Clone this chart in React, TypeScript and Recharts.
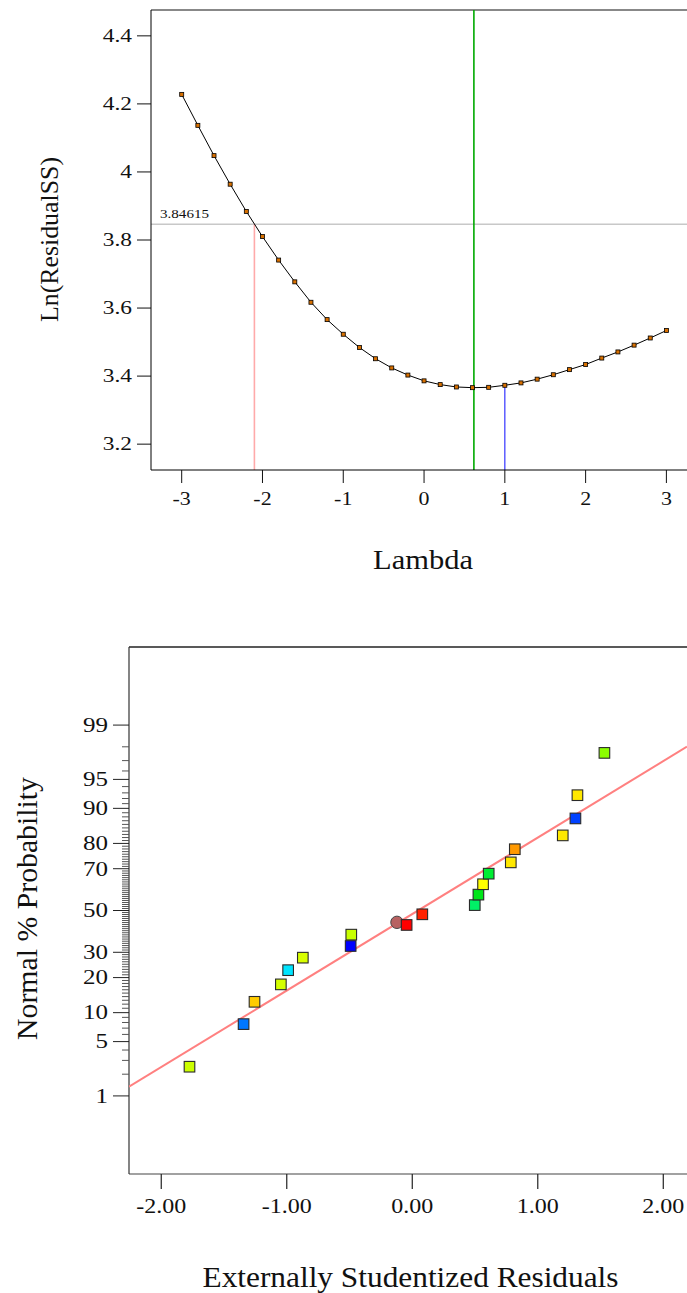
import React from 'react';
import { ComposedChart, Line, XAxis, YAxis, ReferenceLine, Scatter, Label } from 'recharts';

const FONT = "'Liberation Serif', 'Times New Roman', Times, serif";

// ---------- Box-Cox plot data ----------
const lambdaValues = [-3, -2.8, -2.6, -2.4, -2.2, -2, -1.8, -1.6, -1.4, -1.2, -1, -0.8, -0.6, -0.4, -0.2, 0, 0.2, 0.4, 0.6, 0.8, 1, 1.2, 1.4, 1.6, 1.8, 2, 2.2, 2.4, 2.6, 2.8, 3];
const lnResidualSS = [4.228, 4.137, 4.048, 3.964, 3.884, 3.81, 3.741, 3.677, 3.617, 3.566, 3.523, 3.484, 3.451, 3.424, 3.403, 3.386, 3.375, 3.368, 3.366, 3.367, 3.373, 3.38, 3.391, 3.404, 3.419, 3.434, 3.453, 3.471, 3.491, 3.512, 3.534];
const lambdaTicks = [-3, -2, -1, 0, 1, 2, 3];
const lnTicks = [3.2, 3.4, 3.6, 3.8, 4, 4.2, 4.4];
const lambdaDomain = [-3.38, 3.255];
const lnDomain = [3.124, 4.476];
const ciThreshold = 3.84615;
const lambdaLow = -2.1;
const lambdaBest = 0.617;
const lambdaCurrent = 1;
const lnAtCurrent = 3.373;

// ---------- Normal probability plot data ----------
const residuals = [-1.775, -1.344, -1.257, -1.047, -0.989, -0.872, -0.491, -0.486, -0.122, -0.045, 0.08, 0.498, 0.527, 0.564, 0.609, 0.785, 0.817, 1.199, 1.3, 1.316, 1.531];
const probabilities = [2.5, 7.7, 12.6, 17.7, 22.7, 27.7, 32.8, 38.1, 44.1, 42.8, 48.1, 52.7, 57.9, 62.9, 67.8, 72.7, 77.9, 82.7, 87.6, 92.6, 97.6];
const pointColors = ['#ccff00', '#0077ff', '#ffcc00', '#d4ff00', '#00e5ff', '#d8ff00', '#0000ff', '#c8ff00', '#b86262', '#ff0000', '#ff2200', '#00f066', '#00e61a', '#ffff00', '#00ee33', '#ffe800', '#ff9900', '#ffe800', '#0040ff', '#ffe800', '#8cff00'];
const pointShapes = ['square', 'square', 'square', 'square', 'square', 'square', 'square', 'square', 'circle', 'square', 'square', 'square', 'square', 'square', 'square', 'square', 'square', 'square', 'square', 'square', 'square'];
const fitResiduals = [-2.257, 2.189];
const fitProbabilities = [1.352, 98.01];
const residualTicks = [-2, -1, 0, 1, 2];
const residualDomain = [-2.257, 2.189];
const probLabels = [1, 5, 10, 20, 30, 50, 70, 80, 90, 95, 99];
const probMinorTicks = Array.from({ length: 99 }, (_, i) => i + 1);
const zDomain = [-3.306, 3.306];

// inverse standard normal CDF (Acklam) — the probability axis transform
function probit(p: number): number {
  const a = [-39.69683028665376, 220.9460984245205, -275.9285104469687, 138.357751867269, -30.66479806614716, 2.506628277459239];
  const b = [-54.47609879822406, 161.5858368580409, -155.6989798598866, 66.80131188771972, -13.28068155288572];
  const c = [-0.007784894002430293, -0.3223964580411365, -2.400758560128061, -2.549732539343734, 4.374664141464968, 2.938163982698783];
  const d = [0.007784695709041462, 0.3224671290700398, 2.445134137142996, 3.754408661907416];
  const pl = 0.02425;
  if (p < pl) {
    const q = Math.sqrt(-2 * Math.log(p));
    return (((((c[0] * q + c[1]) * q + c[2]) * q + c[3]) * q + c[4]) * q + c[5]) / ((((d[0] * q + d[1]) * q + d[2]) * q + d[3]) * q + 1);
  }
  if (p <= 1 - pl) {
    const q = p - 0.5;
    const r = q * q;
    return ((((((a[0] * r + a[1]) * r + a[2]) * r + a[3]) * r + a[4]) * r + a[5]) * q) / (((((b[0] * r + b[1]) * r + b[2]) * r + b[3]) * r + b[4]) * r + 1);
  }
  const q = Math.sqrt(-2 * Math.log(1 - p));
  return -(((((c[0] * q + c[1]) * q + c[2]) * q + c[3]) * q + c[4]) * q + c[5]) / ((((d[0] * q + d[1]) * q + d[2]) * q + d[3]) * q + 1);
}

const lambdaData = lambdaValues.map((l, i) => ({ lambda: l, ln: lnResidualSS[i] }));
const pointData = residuals.map((r, i) => ({ x: r, z: probit(probabilities[i] / 100), color: pointColors[i], shape: pointShapes[i] }));
const fitData = fitResiduals.map((r, i) => ({ x: r, z: probit(fitProbabilities[i] / 100) }));
const zTicks = probMinorTicks.map((p) => probit(p / 100));

const nearestPct = (z: number) => {
  let best = 1;
  let bd = Infinity;
  probMinorTicks.forEach((p, i) => {
    const dd = Math.abs(zTicks[i] - z);
    if (dd < bd) { bd = dd; best = p; }
  });
  return best;
};

// ---------- custom ticks ----------
const TopXTick = (props: any) => {
  const { x, y, payload } = props;
  return (
    <g>
      <line x1={x} x2={x} y1={y} y2={y + 13} stroke="#111" strokeWidth={1} />
      <text transform={`translate(${x},${y + 35}) scale(1.22,1)`} textAnchor="middle" fontSize={18} fontFamily={FONT} fill="#111">{String(payload.value)}</text>
    </g>
  );
};

const TopYTick = (props: any) => {
  const { x, y, payload } = props;
  return (
    <g>
      <line x1={x - 14} x2={x} y1={y} y2={y} stroke="#111" strokeWidth={1} />
      <text transform={`translate(${x - 19},${y}) scale(1.3,1)`} textAnchor="end" dy="0.34em" fontSize={18} fontFamily={FONT} fill="#111">{String(payload.value)}</text>
    </g>
  );
};

const BottomXTick = (props: any) => {
  const { x, y, payload } = props;
  return (
    <g>
      <line x1={x} x2={x} y1={y} y2={y + 15} stroke="#222" strokeWidth={1.2} />
      <text transform={`translate(${x},${y + 39}) scale(1.2,1)`} textAnchor="middle" fontSize={20} fontFamily={FONT} fill="#111">{Number(payload.value).toFixed(2)}</text>
    </g>
  );
};

const BottomYTick = (props: any) => {
  const { x, y, payload } = props;
  const p = nearestPct(payload.value);
  const labeled = probLabels.includes(p);
  return (
    <g>
      <line x1={x - (labeled ? 16 : 7)} x2={x} y1={y} y2={y} stroke={labeled ? '#222' : '#555'} strokeWidth={1} />
      {labeled && (
        <text transform={`translate(${x - 21},${y}) scale(1.25,1)`} textAnchor="end" dy="0.34em" fontSize={20} fontFamily={FONT} fill="#111">{String(p)}</text>
      )}
    </g>
  );
};

const SquareDot = (props: any) => {
  const { cx, cy, index } = props;
  if (cx == null || cy == null) return <g key={index} />;
  return <rect key={index} x={cx - 2} y={cy - 2} width={4} height={4} fill="#d87000" stroke="#000" strokeWidth={0.8} />;
};

const PointShape = (props: any) => {
  const { cx, cy, payload } = props;
  if (payload.shape === 'circle') {
    return <circle cx={cx} cy={cy} r={6.2} fill={payload.color} stroke="#444" strokeWidth={1} />;
  }
  return <rect x={cx - 5.3} y={cy - 5.3} width={10.6} height={10.6} fill={payload.color} stroke="#2a2a2a" strokeWidth={1.1} />;
};

const EmptyShape = () => <g />;

export default function App() {
  return (
    <div style={{ width: 687, background: '#fff' }}>
      <style>{'body{margin:0;background:#fff}'}</style>
      <ComposedChart width={687} height={600} data={lambdaData} margin={{ top: 10, right: 0, bottom: 0, left: 0 }}>
        <XAxis type="number" dataKey="lambda" domain={lambdaDomain} ticks={lambdaTicks} interval={0} height={130}
          tickSize={0} tickMargin={0} tickLine={false} axisLine={{ stroke: '#000', strokeWidth: 1 }} tick={TopXTick} allowDataOverflow>
          <Label content={() => (
            <text x={423} y={569} textAnchor="middle" fontSize={27} fontFamily={FONT} fill="#111" textLength={100} lengthAdjust="spacingAndGlyphs">Lambda</text>
          )} />
        </XAxis>
        <YAxis type="number" domain={lnDomain} ticks={lnTicks} interval={0} width={151}
          tickSize={0} tickMargin={0} tickLine={false} axisLine={{ stroke: '#000', strokeWidth: 1 }} tick={TopYTick} allowDataOverflow>
          <Label content={() => (
            <text transform="translate(58,239.5) rotate(-90)" textAnchor="middle" fontSize={25.5} fontFamily={FONT} fill="#111" textLength={165} lengthAdjust="spacingAndGlyphs">Ln(ResidualSS)</text>
          )} />
        </YAxis>
        <ReferenceLine y={lnDomain[1]} stroke="#888" strokeWidth={2} />
        <ReferenceLine y={ciThreshold} stroke="#c8c8c8" strokeWidth={1.5}
          label={(p: any) => (
            <text x={160} y={218} fontSize={13.5} fontFamily={FONT} fill="#111" textLength={49} lengthAdjust="spacingAndGlyphs">3.84615</text>
          )} />
        <ReferenceLine x={lambdaBest} stroke="#00aa00" strokeWidth={1.6} />
        <ReferenceLine segment={[{ x: lambdaLow, y: lnDomain[0] }, { x: lambdaLow, y: ciThreshold }]} stroke="#ffaaaa" strokeWidth={1.6} />
        <ReferenceLine segment={[{ x: lambdaCurrent, y: lnDomain[0] }, { x: lambdaCurrent, y: lnAtCurrent }]} stroke="#3333ff" strokeWidth={1.2} />
        <Line type="linear" dataKey="ln" stroke="#000" strokeWidth={1} dot={SquareDot} activeDot={false} isAnimationActive={false} />
      </ComposedChart>

      <ComposedChart width={687} height={693} margin={{ top: 47, right: 0, bottom: 0, left: 0 }}>
        <XAxis type="number" dataKey="x" domain={residualDomain} ticks={residualTicks} interval={0} height={119}
          tickSize={0} tickMargin={0} tickLine={false} axisLine={{ stroke: '#444', strokeWidth: 1.2 }} tick={BottomXTick} allowDataOverflow>
          <Label content={() => (
            <text x={410.5} y={686.5} textAnchor="middle" fontSize={30} fontFamily={FONT} fill="#111" textLength={416} lengthAdjust="spacingAndGlyphs">Externally Studentized Residuals</text>
          )} />
        </XAxis>
        <YAxis type="number" dataKey="z" domain={zDomain} ticks={zTicks} interval={0} width={129}
          tickSize={0} tickMargin={0} tickLine={false} axisLine={{ stroke: '#333', strokeWidth: 1.2 }} tick={BottomYTick} allowDataOverflow>
          <Label content={() => (
            <text transform="translate(36.5,308.5) rotate(-90)" textAnchor="middle" fontSize={30} fontFamily={FONT} fill="#111" textLength={263} lengthAdjust="spacingAndGlyphs">Normal % Probability</text>
          )} />
        </YAxis>
        <ReferenceLine y={zDomain[1]} stroke="#222" strokeWidth={1.5} />
        <Scatter data={fitData} dataKey="z" line={{ stroke: '#ff8080', strokeWidth: 2 }} shape={EmptyShape} isAnimationActive={false} />
        <Scatter data={pointData} dataKey="z" shape={PointShape} isAnimationActive={false} />
      </ComposedChart>
    </div>
  );
}
